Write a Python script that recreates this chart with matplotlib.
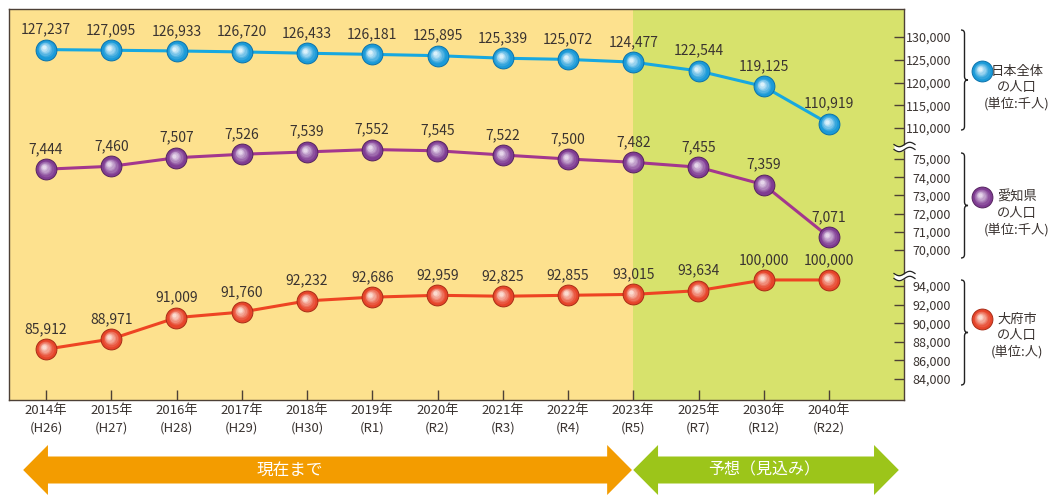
import numpy as np
import matplotlib.pyplot as plt
from matplotlib import transforms
from matplotlib.colors import to_rgb
from matplotlib.path import Path
from matplotlib.patches import PathPatch, Polygon

plt.rcParams['font.family'] = ['Noto Sans CJK JP', 'DejaVu Sans']

# ---------------- data ----------------
years = ["2014年\n(H26)", "2015年\n(H27)", "2016年\n(H28)", "2017年\n(H29)",
         "2018年\n(H30)", "2019年\n(R1)", "2020年\n(R2)", "2021年\n(R3)",
         "2022年\n(R4)", "2023年\n(R5)", "2025年\n(R7)", "2030年\n(R12)",
         "2040年\n(R22)"]

japan = [127237, 127095, 126933, 126720, 126433, 126181, 125895,
         125339, 125072, 124477, 122544, 119125, 110919]
aichi = [7444, 7460, 7507, 7526, 7539, 7552, 7545,
         7522, 7500, 7482, 7455, 7359, 7071]
obu = [85912, 88971, 91009, 91760, 92232, 92686, 92959,
       92825, 92855, 93015, 93634, 100000, 100000]
# the Obu line in the original is not drawn to scale -> heights
obu_level = [87200, 88300, 90600, 91200, 92400, 92800, 93000,
             92900, 93000, 93100, 93500, 94650, 94650]

japan_ticks = [110000, 115000, 120000, 125000, 130000]
aichi_ticks = [7000, 7100, 7200, 7300, 7400, 7500]
aichi_ticklabels = ["70,000", "71,000", "72,000", "73,000", "74,000", "75,000"]
obu_ticks = [84000, 86000, 88000, 90000, 92000, 94000]

legend_names = ["日本全体\nの人口\n(単位:千人)", "愛知県\nの人口\n(単位:千人)",
                "大府市\nの人口\n(単位:人)"]
period_names = ["現在まで", "予想（見込み）"]

# ---------------- layout ----------------
W, H = 1062, 495
L, R, T, B = 9, 904, 9, 400
txt_c = "#3a3330"
spine_c = "#4d4036"
yellow = "#fde18e"
green = "#d7e26c"

fig = plt.figure(figsize=(W / 100, H / 100), dpi=100)
ax = fig.add_axes([L / W, 1 - B / H, (R - L) / W, (B - T) / H])
ax_p = ax.twinx()
ax_o = ax.twinx()
ax.yaxis.tick_right()

x = np.arange(len(years))
x_lo = (L - 46) / 65.25
x_hi = (R - 46) / 65.25
ax.set_xlim(x_lo, x_hi)
ax.axvspan(x_lo, 9, color=yellow, zorder=0, lw=0)
ax.axvspan(9, x_hi, color=green, zorder=0, lw=0)


def pix_lims(v_top, y_top, v_bot, y_bot):
    k = (v_top - v_bot) / (y_bot - y_top)
    return v_bot - (B - y_bot) * k, v_top + (y_top - T) * k


ax.set_ylim(*pix_lims(130000, 37, 110000, 128))
ax_p.set_ylim(*pix_lims(7500, 159, 7000, 250))
ax_o.set_ylim(*pix_lims(94000, 286, 84000, 379))

ax.set_yticks(japan_ticks, [f"{v:,}" for v in japan_ticks])
ax_p.set_yticks(aichi_ticks, aichi_ticklabels)
ax_o.set_yticks(obu_ticks, [f"{v:,}" for v in obu_ticks])

for a in (ax, ax_p, ax_o):
    a.tick_params(axis='y', which='both', left=False, right=True, labelleft=False,
                  labelright=True, direction='in', length=7, width=1,
                  color=spine_c, labelcolor=txt_c, labelsize=9, pad=34)
    plt.setp(a.get_yticklabels(), ha='right')
for a in (ax_p, ax_o):
    for s in a.spines.values():
        s.set_visible(False)
for s in ax.spines.values():
    s.set_color(spine_c)
    s.set_linewidth(1)

ax.set_xticks(x, years)
ax.tick_params(axis='x', direction='in', length=7, width=1, color=spine_c,
               labelcolor=txt_c, labelsize=9.5, pad=3)
for t in ax.get_xticklabels():
    t.set_linespacing(1.4)


def sphere(a, xs, ys, base, edge, light, trans=None, z=4):
    # layered circles give a soft glossy ball
    if trans is None:
        trans = a.transData
    a.plot(xs, ys, ls='none', marker='o', ms=15, mfc=base, mec=edge, mew=0.7,
           transform=trans, zorder=z)
    b, l = np.array(to_rgb(base)), np.array(to_rgb(light))
    steps = 6
    for i in range(1, steps + 1):
        f = i / steps
        c = b * (1 - f) + l * f
        off = transforms.offset_copy(trans, fig=fig, x=-1.6 * f, y=1.6 * f,
                                     units='points')
        a.plot(xs, ys, ls='none', marker='o', ms=13 - 10 * f, mfc=c, mec='none',
               alpha=0.8, transform=off, zorder=z + 0.1 * i)


def draw_series(a, vals, labels, line_c, base_c, edge_c, hi_c):
    a.plot(x, vals, color=line_c, lw=2.2, zorder=3)
    sphere(a, x, vals, base_c, edge_c, hi_c)
    for xi, v, s in zip(x, vals, labels):
        a.annotate(s, (xi, v), xytext=(0, 14.5), textcoords='offset points',
                   ha='center', va='center', fontsize=10, color=txt_c, zorder=7)


styles = [("#17a8e0", "#1a9ad8", "#0b72ab", "#e4f6fd"),
          ("#a3378e", "#7f3c92", "#55235f", "#eadcef"),
          ("#ee4423", "#e6442a", "#a82c16", "#fde2d8")]

draw_series(ax, japan, [f"{v:,}" for v in japan], *styles[0])
draw_series(ax_p, aichi, [f"{v:,}" for v in aichi], *styles[1])
draw_series(ax_o, obu_level, [f"{v:,}" for v in obu], *styles[2])

# ---------------- decorations (pixel coords) ----------------
deco = fig.add_axes([0, 0, 1, 1], zorder=10)
deco.set_xlim(0, W)
deco.set_ylim(H, 0)
deco.axis('off')
deco.patch.set_visible(False)

# axis break marks
xs = np.linspace(894, 915, 60)
wave = 2.2 * np.sin((xs - 894) / 21 * 2 * np.pi)
for yc in (147, 276):
    deco.fill_between(xs, yc - 2.5 + wave, yc + 2.5 + wave, color='white', lw=0)
    deco.plot(xs, yc - 2.5 + wave, color='#222', lw=0.9)
    deco.plot(xs, yc + 2.5 + wave, color='#222', lw=0.9)


def brace(x0, y0, y1, w=3.5):
    ym = (y0 + y1) / 2
    verts = [(x0, y0), (x0 + w, y0), (x0 + w, y0 + w), (x0 + w, ym - w),
             (x0 + w, ym), (x0 + 2 * w, ym), (x0 + w, ym), (x0 + w, ym + w),
             (x0 + w, y1 - w), (x0 + w, y1), (x0, y1)]
    codes = [Path.MOVETO, Path.CURVE3, Path.CURVE3, Path.LINETO,
             Path.CURVE3, Path.CURVE3, Path.CURVE3, Path.CURVE3,
             Path.LINETO, Path.CURVE3, Path.CURVE3]
    deco.add_patch(PathPatch(Path(verts, codes), fill=False, ec='#222', lw=1))


for (y0, y1) in ((30, 130), (153, 258), (280, 385)):
    brace(961, y0, y1)

for (name, yc), st in zip(zip(legend_names, (71, 197, 319)), styles):
    sphere(deco, [982], [yc], st[1], st[2], st[3], z=2)
    deco.text(1017, yc + 17, name, ha='center', va='center', fontsize=9.5,
              color=txt_c, linespacing=1.3)

# period arrows under the axis
arr = fig.add_axes([L / W, 0, (R - L) / W, 55 / H], zorder=5)
arr.set_xlim(x_lo, x_hi)
arr.set_ylim(-25, 30)
arr.axis('off')


def double_arrow(x0, x1, color, head=0.38):
    pts = [(x0, 0), (x0 + head, 25), (x0 + head, 13.5), (x1 - head, 13.5),
           (x1 - head, 25), (x1, 0), (x1 - head, -25), (x1 - head, -13.5),
           (x0 + head, -13.5), (x0 + head, -25)]
    arr.add_patch(Polygon(pts, closed=True, fc=color, ec='none'))


double_arrow(-0.35, 8.98, "#f39c00")
double_arrow(9.0, 13.07, "#9cc51a")
arr.text(3.74, 0, period_names[0], ha='center', va='center', color='white', fontsize=12)
arr.text(11.0, 0, period_names[1], ha='center', va='center', color='white', fontsize=11.5)

fig.savefig("out.png", dpi=100)
